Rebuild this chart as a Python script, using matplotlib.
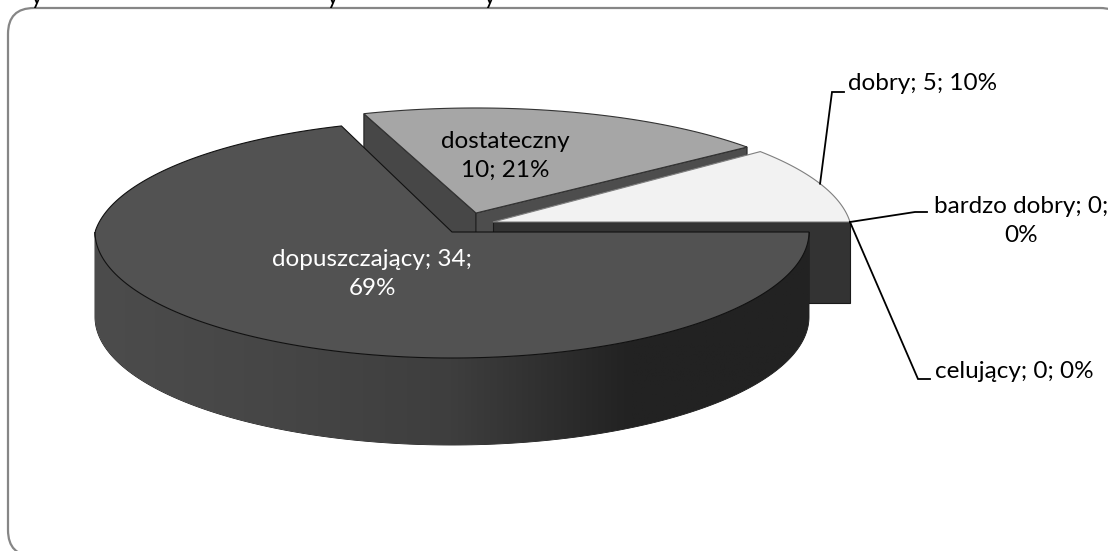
import numpy as np
import matplotlib
matplotlib.use('Agg')
import matplotlib.pyplot as plt
from matplotlib.colors import LinearSegmentedColormap
from matplotlib.patches import FancyBboxPatch, Polygon

# grades, pie starts at 3 o'clock and runs counter clockwise
categories = ['dobry', 'dostateczny', 'dopuszczający']
values = [5, 10, 34]
percents = [10, 21, 69]
zero_categories = ['bardzo dobry', 'celujący']
zero_values = [0, 0]
zero_percents = [0, 0]

plt.rcParams['font.family'] = ['Lato', 'DejaVu Sans']
FONT = 17.5
SPACING = 1.45
RX = 357


def arc(tip, a0, a1, ry=126, rx=RX, n=200):
    """Points of the rim, far half of the disc is drawn a bit smaller."""
    a = np.radians(np.linspace(a0, a1, n))
    far = np.sin(a)
    s = 1 - 0.11 * np.clip(far, 0, None)
    return np.column_stack([tip[0] + rx * np.cos(a) * s, tip[1] - ry * far * s])


fig = plt.figure(figsize=(11.08, 5.51), dpi=100)
ax = fig.add_axes([0, 0, 1, 1])
ax.set_xlim(0, 1108)
ax.set_ylim(551, 0)
ax.axis('off')

ax.add_patch(FancyBboxPatch((32, 32), 1070, 500, boxstyle='round,pad=24,rounding_size=26',
                            fc='white', ec='#868686', lw=1.6))

# clipped line of text above the frame
for x in [31, 327, 484]:
    ax.text(x, -3, 'y', fontsize=16.5, ha='left', va='center', color='black')

total = sum(values)
sweeps = np.cumsum([0] + [v / total * 360 for v in values])

# dostateczny
tip = (476, 213)
rim = arc(tip, sweeps[1], sweeps[2], ry=118, rx=362)
first, last = rim[0], rim[-1]
ax.add_patch(Polygon([last, tip, (tip[0], tip[1] + 60), (last[0], last[1] + 36)],
                     fc='#474747', ec='#222222', lw=0.8))
ax.add_patch(Polygon([tip, first, (first[0], first[1] + 36), (tip[0], tip[1] + 60)],
                     fc='#4d4d4d', ec='#222222', lw=0.8))
ax.add_patch(Polygon(np.vstack([[tip], rim]), fc='#a6a6a6', ec='#333333', lw=0.8))

# dobry
tip = (493, 222)
rim = arc(tip, sweeps[0], sweeps[1])
right = rim[0]
ax.add_patch(Polygon([tip, right, (right[0], right[1] + 81), (tip[0], tip[1] + 81)],
                     fc='#333333', ec='#1a1a1a', lw=0.8))
ax.add_patch(Polygon(np.vstack([[tip], rim]), fc='#f2f2f2', ec='#7f7f7f', lw=0.8))
dobry_mid = arc(tip, sweeps[:2].mean(), sweeps[:2].mean(), n=1)[0]

# dopuszczający, wall first with a left to right shade
tip = (452, 232)
near = arc(tip, 180, 360)
low = arc((tip[0], tip[1] + 85), 360, 180, ry=128)
wall = Polygon(np.vstack([near, low]), fc='none', ec='#111111', lw=0.6)
ax.add_patch(wall)
shade = LinearSegmentedColormap.from_list('wall', ['#4c4c4c', '#464646', '#3e3e3e', '#222222', '#222222'])
im = ax.imshow(np.linspace(0, 1, 256)[None, :], cmap=shade, extent=(94, 810, 460, 230),
               aspect='auto', zorder=1.5)
im.set_clip_path(wall)
ax.set_xlim(0, 1108)
ax.set_ylim(551, 0)
rim = arc(tip, sweeps[2], sweeps[3])
ax.add_patch(Polygon(np.vstack([[tip], rim]), fc='#525252', ec='#111111', lw=0.8, zorder=2))

# labels with leader lines
lead = {'color': 'black', 'lw': 1.3, 'zorder': 3, 'solid_joinstyle': 'miter'}
ax.plot([dobry_mid[0], 832, 844], [dobry_mid[1], 92, 92], **lead)
ax.plot([right[0], 915, 927], [right[1], 212, 212], **lead)
ax.plot([right[0], 918, 930], [right[1], 379, 379], **lead)

ax.text(505, 156, f'{categories[1]}\n{values[1]}; {percents[1]}%', fontsize=FONT, ha='center',
        va='center', color='black', zorder=4, linespacing=SPACING)
ax.text(372, 274, f'{categories[2]}; {values[2]};\n{percents[2]}%', fontsize=FONT, ha='center',
        va='center', color='white', zorder=4, linespacing=SPACING)
ax.text(848, 84, f'{categories[0]}; {values[0]}; {percents[0]}%', fontsize=FONT, ha='left',
        va='center', color='black', zorder=4)
ax.text(1021, 221, f'{zero_categories[0]}; {zero_values[0]};\n{zero_percents[0]}%', fontsize=FONT,
        ha='center', va='center', color='black', zorder=4, linespacing=SPACING)
ax.text(935, 372, f'{zero_categories[1]}; {zero_values[1]}; {zero_percents[1]}%', fontsize=FONT,
        ha='left', va='center', color='black', zorder=4)

fig.savefig('out.png', dpi=100)
